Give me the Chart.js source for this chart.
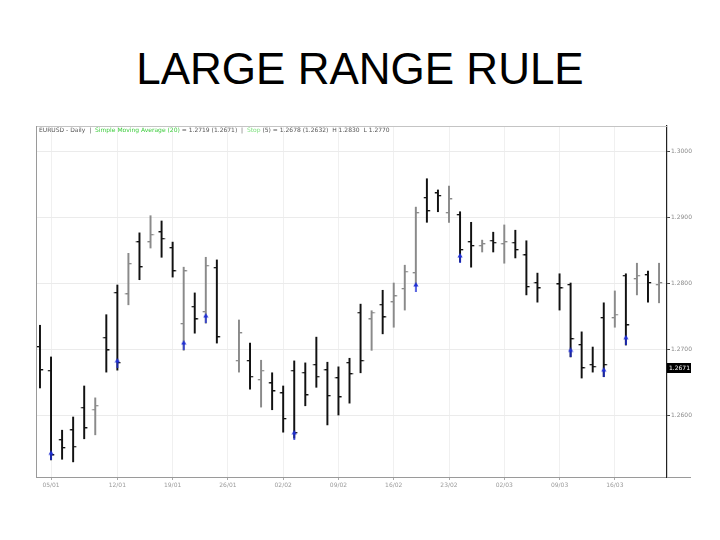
<!DOCTYPE html>
<html lang="en">
<head>
  <meta charset="UTF-8" />
  <title>Large Range Rule</title>
  <script src="https://cdn.jsdelivr.net/npm/chart.js"></script>
  <style>
    html, body { margin: 0; padding: 0; background: #fff; }
    #wrap { position: relative; width: 720px; height: 540px; }
    #title {
      position: absolute; left: 0; top: 43px; width: 720px;
      text-align: center; line-height: 52px;
      font-family: "Liberation Sans", Arial, sans-serif; font-size: 44px; color: #000;
    }
    #chart { position: absolute; left: 0; top: 0; }
  </style>
</head>
<body>
  <div id="wrap">
    <div id="title">LARGE RANGE RULE</div>
    <canvas id="chart" width="720" height="540"></canvas>
  </div>
  <script>
    // daily OHLC, one entry per slot (null = no trading)
    const opens  = [1.2703,1.2667,1.2562,1.2577,1.2611,1.2608,1.2717,1.2785,1.2783,1.2862,1.2862,1.2877,1.2853,1.2738,1.2764,1.2756,1.2823,null,
                    1.2682,1.2682,1.2653,1.2648,1.2633,1.2667,1.2664,1.2676,1.2668,1.2656,1.2679,1.2755,1.2745,1.2767,1.2771,1.2791,1.2815,1.2929,
                    1.2936,1.2906,1.2903,1.2862,1.2856,1.2864,1.2859,1.2861,1.2842,1.2800,null,1.2798,1.2797,1.2706,1.2676,1.2747,1.2747,1.2811,
                    1.2806,1.2812,1.2797];
    const highs  = [1.2736,1.2688,1.2577,1.2597,1.2644,1.2626,1.2752,1.2797,1.2845,1.2876,1.2902,1.2894,1.2862,1.2824,1.2785,1.2839,1.2835,null,
                    1.2744,1.2709,1.2683,1.2664,1.2644,1.2682,1.2679,1.2718,1.2680,1.2673,1.2686,1.2768,1.2758,1.2789,1.2800,1.2827,1.2915,1.2958,
                    1.2941,1.2947,1.2908,1.2892,1.2865,1.2877,1.2888,1.2880,1.2864,1.2815,null,1.2814,1.2800,1.2726,1.2703,1.2770,1.2788,1.2814,
                    1.2830,1.2818,1.2830];
    const lows   = [1.2641,1.2532,1.2533,1.2529,1.2564,1.2570,1.2665,1.2668,1.2767,1.2805,1.2853,1.2839,1.2809,1.2698,1.2724,1.2739,1.2709,null,
                    1.2665,1.2639,1.2612,1.2608,1.2574,1.2565,1.2614,1.2642,1.2585,1.2600,1.2618,1.2664,1.2698,1.2723,1.2733,1.2759,1.2797,1.2892,
                    1.2908,1.2892,1.2832,1.2824,1.2847,1.2847,1.2830,1.2838,1.2782,1.2771,null,1.2759,1.2688,1.2656,1.2665,1.2658,1.2733,1.2706,
                    1.2782,1.2771,1.2770];
    const closes = [1.2668,1.2539,1.2550,1.2552,1.2580,1.2614,1.2698,1.2679,1.2829,1.2824,1.2873,1.2867,1.2818,1.2818,1.2745,1.2826,1.2718,null,
                    1.2724,1.2658,1.2667,1.2636,1.2594,1.2573,1.2630,1.2658,1.2629,1.2627,1.2662,1.2682,1.2755,1.2748,1.2780,1.2817,1.2906,1.2909,
                    1.2932,1.2927,1.2850,1.2856,1.2859,1.2861,1.2862,1.2850,1.2794,1.2792,null,1.2792,1.2715,1.2671,1.2673,1.2676,1.2752,1.2736,
                    1.2811,1.2800,1.2800];

    // large range signals (blue arrows)
    const signalSlots  = [1, 7, 13, 15, 23, 34, 38, 48, 51, 53];
    const signalPrices = [1.2539, 1.2679, 1.2706, 1.2747, 1.2570, 1.2794, 1.2838, 1.2695, 1.2665, 1.2714];

    const xTickSlots  = [1, 7, 12, 17, 22, 27, 32, 37, 42, 47, 52];
    const xTickLabels = ['05/01','12/01','19/01','26/01','02/02','09/02','16/02','23/02','02/03','09/03','16/03'];
    const yTicks = [1.2600, 1.2700, 1.2800, 1.2900, 1.3000];
    const lastPrice = 1.2671;

    const isDown = i => closes[i] < opens[i];
    const BLACK = '#111111', GRAY = '#8a8a8a', BLUE = '#1f2fd6';

    function tickImage(side, color) {
      const c = document.createElement('canvas');
      c.width = 8; c.height = 2;
      const g = c.getContext('2d');
      g.fillStyle = color;
      g.fillRect(side === 'left' ? 0.8 : 4, 0, 3.2, 1.3);
      return c;
    }
    const openTicks  = { down: tickImage('left', BLACK),  up: tickImage('left', GRAY) };
    const closeTicks = { down: tickImage('right', BLACK), up: tickImage('right', GRAY) };

    function arrowImage() {
      const c = document.createElement('canvas');
      c.width = 6; c.height = 10;
      const g = c.getContext('2d');
      g.fillStyle = BLUE;
      g.fillRect(2.3, 3, 1.5, 7);
      g.beginPath();
      g.moveTo(0.5, 4.5); g.lineTo(3, 0); g.lineTo(5.5, 4.5); g.closePath();
      g.fill();
      return c;
    }
    const arrowImg = arrowImage();

    const framePlugin = {
      id: 'frame',
      afterDraw(chart) {
        const { ctx, chartArea: a, scales } = chart;
        ctx.save();
        ctx.lineWidth = 1;
        ctx.strokeStyle = '#c4c4c4';
        ctx.beginPath(); ctx.moveTo(a.left, a.top + 0.5); ctx.lineTo(a.right, a.top + 0.5); ctx.stroke();
        ctx.strokeStyle = '#9a9a9a';
        ctx.beginPath(); ctx.moveTo(a.left + 0.5, a.top); ctx.lineTo(a.left + 0.5, a.bottom); ctx.stroke();
        ctx.beginPath(); ctx.moveTo(a.right, a.bottom + 0.5); ctx.lineTo(a.right + 24, a.bottom + 0.5); ctx.stroke();

        // header line
        ctx.font = '6px "DejaVu Sans"';
        ctx.textBaseline = 'middle';
        const parts = [
          ['EURUSD - Daily  |  ', '#555'],
          ['Simple Moving Average (20)', '#3dcc3d'],
          [' = 1.2719 (1.2671)  |  ', '#555'],
          ['Stop', '#7fe07f'],
          [' (5) = 1.2678 (1.2632)  H 1.2830  L 1.2770', '#555']
        ];
        let x = a.left + 3;
        for (const [t, col] of parts) {
          ctx.fillStyle = col;
          ctx.fillText(t, x, a.top + 4);
          x += ctx.measureText(t).width;
        }

        // last price marker on the right axis
        const py = Math.round(scales.y.getPixelForValue(lastPrice));
        ctx.fillStyle = '#000';
        ctx.fillRect(a.right, py - 5, 24, 10);
        ctx.fillStyle = '#fff';
        ctx.fillText(lastPrice.toFixed(4), a.right + 2, py);
        ctx.restore();
      }
    };

    new Chart(document.getElementById('chart'), {
      type: 'bar',
      data: {
        datasets: [
          {
            type: 'bar',
            data: highs.map((h, i) => ({ x: i, y: h == null ? null : [lows[i], h] })),
            backgroundColor: c => isDown(c.dataIndex) ? BLACK : GRAY,
            barThickness: 1.3,
            order: 3
          },
          {
            type: 'scatter',
            data: opens.map((v, i) => ({ x: i, y: v })),
            pointStyle: c => isDown(c.dataIndex) ? openTicks.down : openTicks.up,
            pointRadius: 3,
            order: 2
          },
          {
            type: 'scatter',
            data: closes.map((v, i) => ({ x: i, y: v })),
            pointStyle: c => isDown(c.dataIndex) ? closeTicks.down : closeTicks.up,
            pointRadius: 3,
            order: 2
          },
          {
            type: 'scatter',
            data: signalSlots.map((s, k) => ({ x: s, y: signalPrices[k] })),
            pointStyle: arrowImg,
            pointRadius: 3,
            order: 1
          }
        ]
      },
      options: {
        responsive: false,
        animation: false,
        events: [],
        layout: { padding: { left: 36, top: 126, right: 0, bottom: 0 } },
        plugins: { legend: { display: false }, tooltip: { enabled: false } },
        scales: {
          x: {
            type: 'linear',
            offset: false,
            min: -0.36,
            max: 56.72,
            afterBuildTicks: s => { s.ticks = xTickSlots.map(v => ({ value: v })); },
            afterFit: s => { s.height = 63; },
            ticks: {
              autoSkip: false, maxRotation: 0, padding: 2,
              color: '#9a9a9a', font: { family: 'DejaVu Sans', size: 6 },
              callback: (v) => xTickLabels[xTickSlots.indexOf(v)]
            },
            grid: { offset: false, color: '#f0f0f0', tickLength: 3, tickColor: '#aaa' },
            border: { color: '#9a9a9a' }
          },
          y: {
            position: 'right',
            min: 1.25061,
            max: 1.30379,
            afterBuildTicks: s => { s.ticks = yTicks.map(v => ({ value: v })); },
            afterFit: s => { s.width = 53; },
            ticks: {
              padding: 1, color: '#8a8a8a', font: { family: 'DejaVu Sans', size: 6 },
              callback: v => v.toFixed(4)
            },
            grid: { color: '#ebebeb', tickLength: 3, tickColor: '#444' },
            border: { color: '#222', width: 1.2 }
          }
        }
      },
      plugins: [framePlugin]
    });
  </script>
</body>
</html>
